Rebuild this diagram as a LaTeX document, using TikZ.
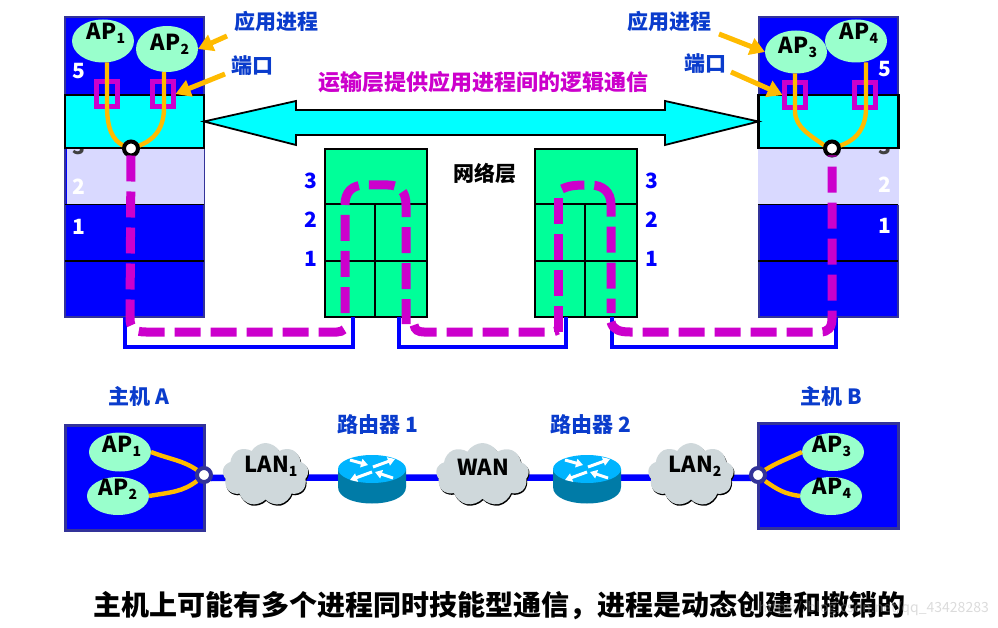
\documentclass[tikz,border=0pt]{standalone}
\usepackage{fontspec}
\setmainfont{Noto Sans CJK SC}
\usetikzlibrary{shapes.geometric,shapes.symbols,shadows,backgrounds,arrows.meta}
\definecolor{hostblue}{RGB}{0,0,255}
\definecolor{hostedge}{RGB}{51,51,153}
\definecolor{lav}{RGB}{217,217,255}
\definecolor{rgreen}{RGB}{0,255,153}
\definecolor{apgreen}{RGB}{153,255,204}
\definecolor{magline}{RGB}{204,0,204}
\definecolor{orangeline}{RGB}{255,187,0}
\definecolor{labelblue}{RGB}{10,60,204}
\definecolor{cloudgrey}{RGB}{207,216,219}
\definecolor{rtop}{RGB}{0,180,255}
\definecolor{rside}{RGB}{0,123,167}
\definecolor{cyanfill}{RGB}{0,255,255}
\tikzset{
  hostbox/.style={draw=hostedge,line width=2.6pt,fill=hostblue,inner sep=0,outer sep=0},
  cyanbox/.style={draw=black,line width=2.4pt,fill=cyanfill,inner sep=0,outer sep=0,minimum width=139pt,minimum height=53pt},
  rbox/.style={draw=black,line width=1.6pt,fill=rgreen,inner sep=0,outer sep=0,minimum width=102pt,minimum height=168pt},
  hair/.style={draw=black,line width=1.4pt},
  apell/.style={ellipse,fill=apgreen,inner sep=0,outer sep=0},
  aptext/.style={font=\fontsize{22}{22}\selectfont\bfseries,text=black,inner sep=0},
  wlabel/.style={font=\fontsize{21}{21}\selectfont\bfseries,text=white,inner sep=0},
  blabel/.style={font=\fontsize{21}{21}\selectfont\bfseries,text=hostblue,inner sep=0},
  cnlabel/.style={font=\fontsize{21}{21}\selectfont\bfseries,text=labelblue,inner sep=0},
  portsq/.style={draw=magline,line width=4.4pt,inner sep=0,outer sep=0,minimum width=21pt,minimum height=25pt},
  procline/.style={draw=orangeline,line width=4.4pt},
  pointer/.style={draw=orangeline,line width=5pt,-{Triangle[length=15pt,width=17pt]}},
  hole/.style={circle,fill=white,draw=black,line width=4pt,minimum size=14pt,inner sep=0,outer sep=0},
  holeb/.style={circle,fill=white,draw=hostedge,line width=4pt,minimum size=14pt,inner sep=0,outer sep=0},
  pipe/.style={draw=magline,line width=9pt,dash pattern=on 26pt off 10pt},
  wire/.style={draw=hostblue,line width=3.6pt},
  bus/.style={draw=hostblue,line width=6.5pt},
  cloudnode/.style={cloud,cloud puffs=9,cloud puff arc=120,aspect=1.35,fill=cloudgrey,inner sep=0,outer sep=0,minimum width=86pt,minimum height=63pt,
     copy shadow={fill=black,draw=none,shadow xshift=0.8pt,shadow yshift=-1.4pt}},
  cloudtext/.style={font=\fontsize{22}{22}\selectfont\bfseries,text=black,inner sep=0},
  rarrow/.style={draw=white,line width=3pt,-{Triangle[length=7pt,width=8.5pt]}},
}
\newcommand{\aplabel}[1]{AP\raisebox{-4pt}{\fontsize{14}{14}\selectfont #1}}
\newcommand{\routerart}[2]{%
  \begin{scope}[shift={(#1,#2)}]
    \fill[rside] (-34,0) -- (-34,18) .. controls (-34,40) and (34,40) .. (34,18) -- (34,0) -- cycle;
    \fill[rtop] (0,0) ellipse[x radius=34pt,y radius=14pt];
    \draw[rarrow] (-22,-9) -- (-4,-4);
    \draw[rarrow] (1,-2) -- (23,-10);
    \draw[rarrow] (0,3) -- (-22,11);
    \draw[rarrow] (21,9) -- (3,3);
  \end{scope}}
\begin{document}
\begin{tikzpicture}[x=1pt,y=-1pt]
\useasboundingbox (0,0) rectangle (998,628);
% hosts, upper part
\node[hostbox,minimum width=139pt,minimum height=300pt] (hostA) at (134.5,167) {};
\node[hostbox,minimum width=139pt,minimum height=300pt] (hostB) at (828.5,167) {};
\fill[lav] (66.5,148) rectangle (204,205);
\fill[lav] (758,148) rectangle (899,205);
\draw[hair] (65,204.5) -- (204,204.5);
\draw[hair] (758,204.5) -- (898,204.5);
\draw[hair] (65,261) -- (204,261);
\draw[hair] (758,261) -- (898,261);
\node[wlabel] (a5) at (79,71) {5};
\node[wlabel,text=black!75] (a3) at (79,147) {3};
\node[wlabel] (a2) at (79,187) {2};
\node[wlabel] (a1) at (79,227) {1};
\node[wlabel] (b5) at (885,69) {5};
\node[wlabel,text=black!75] (b3) at (885,147) {3};
\node[wlabel] (b2) at (885,185) {2};
\node[wlabel] (b1) at (885,226) {1};
\node[cyanbox] (cyanL) at (134.5,121.5) {};
\node[cyanbox,minimum width=140pt] (cyanR) at (828.5,121.5) {};
% transport arrow
\draw[draw=black,line width=1.8pt,fill=cyanfill,line join=miter] (cyanL.east) -- (296,101) -- (296,110) -- (665,110) -- (665,101) -- (cyanR.west) -- (665,145) -- (665,135) -- (296,135) -- (296,145) -- cycle;
% ports
\node[portsq] (p1) at (107,94) {};
\node[portsq] (p2) at (163,94) {};
\node[portsq] (p3) at (795,95) {};
\node[portsq] (p4) at (865,95) {};
% AP upper
\node[apell,minimum width=62pt,minimum height=43pt] (e1) at (103,41) {};
\node[apell,minimum width=62pt,minimum height=46pt] (e2) at (167,49) {};
\node[apell,minimum width=62pt,minimum height=43pt] (e3) at (796,52) {};
\node[apell,minimum width=62pt,minimum height=43pt] (e4) at (856,41) {};
\node[aptext] (t1) at (106,33) {\aplabel{1}};
\node[aptext] (t2) at (170,44) {\aplabel{2}};
\node[aptext] (t3) at (798,47) {\aplabel{3}};
\node[aptext] (t4) at (859,33) {\aplabel{4}};
\draw[procline] ([xshift=4pt]e1.south) -- (107,105) .. controls (107,128) and (112,140) .. (124,146);
\draw[procline] ([xshift=-3pt]e2.south) -- (164,108) .. controls (164,132) and (150,142) .. (138,146);
\draw[procline] ([xshift=-1pt]e3.south) -- (795,112) .. controls (796,128) and (810,135) .. (825,146);
\draw[procline] ([xshift=10pt]e4.south) -- (866,108) .. controls (866,132) and (852,142) .. (839,146);
\node[hole] (cA) at (131,148.5) {};
\node[hole] (cB) at (832,148.5) {};
% pointers
\node[cnlabel] (lapL) at (276,21) {应用进程};
\node[cnlabel] (lportL) at (252.5,66) {端口};
\node[cnlabel] (lapR) at (669,21) {应用进程};
\node[cnlabel] (lportR) at (705.5,64) {端口};
\draw[pointer] (227,36) -- (e2.east);
\draw[pointer] (225,74) -- ([xshift=2pt]p2.east);
\draw[pointer] (719,34) -- (e3.west);
\draw[pointer] (731,72) -- ([xshift=-2pt]p3.west);
\node[font=\fontsize{22}{22}\selectfont\bfseries,text=magline,inner sep=0] (title) at (483,82) {运输层提供应用进程间的逻辑通信};
% router stacks
\node[rbox] (r1) at (376,233) {};
\node[rbox] (r2) at (586,233) {};
\draw[hair] (325,204) -- (427,204);
\draw[hair] (325,261) -- (427,261);
\draw[hair] (375,204) -- (375,317);
\draw[hair] (535,204) -- (637,204);
\draw[hair] (535,261) -- (637,261);
\draw[hair] (585,204) -- (585,317);
\node[blabel] (n13) at (311,181) {3};
\node[blabel] (n12) at (311,220) {2};
\node[blabel] (n11) at (311,259) {1};
\node[blabel] (n23) at (652,181) {3};
\node[blabel] (n22) at (652,220) {2};
\node[blabel] (n21) at (652,259) {1};
\node[font=\fontsize{21}{21}\selectfont\bfseries,text=black,inner sep=0] (netl) at (485,174) {网络层};
% wires
\draw[wire] ([xshift=-9.5pt]hostA.south) -- ++(0,30) -| ([xshift=-23pt]r1.south);
\draw[wire] ([xshift=23pt]r1.south) -- ++(0,30) -| ([xshift=-20pt]r2.south);
\draw[wire] ([xshift=26pt]r2.south) -- ++(0,30) -| ([xshift=7.5pt]hostB.south);
% dashed logical paths
\draw[pipe] (cA.south) -- (130,318) .. controls (130,328) and (134,332) .. (146,332) -- (337,332) .. controls (343,332) and (347,328) .. (348,322);
\draw[pipe] (345,313) -- (345,205) .. controls (345,192) and (352,185) .. (365,185) -- (388,185) .. controls (400,185) and (406,192) .. (406,205) -- (406,324);
\draw[pipe] (414,325) .. controls (415,330) and (418,332) .. (424,332) -- (548,332) .. controls (552,332) and (554,332) .. (558,330);
\draw[pipe] (558,332) -- (558,197);
\draw[pipe,dash pattern=on 23pt off 10pt on 40pt off 10pt on 26pt off 10pt on 26pt off 10pt on 26pt off 10pt] (562,189) .. controls (570,185) and (578,185) .. (590,185) .. controls (603,185) and (611,192) .. (611,205) -- (611,313);
\draw[pipe] (611,322) .. controls (613,330) and (620,332) .. (630,332) -- (820,332) .. controls (828,332) and (832,328) .. (832,318) -- (cB.south);
% lower row
\node[cnlabel] (hA) at (139,396) {主机 A};
\node[cnlabel] (hB) at (831,396) {主机 B};
\node[cnlabel] (rt1) at (378,425) {路由器 1};
\node[cnlabel] (rt2) at (591,425) {路由器 2};
\node[hostbox,line width=3pt,minimum width=139pt,minimum height=105pt] (lowA) at (134.5,477.5) {};
\node[hostbox,line width=3pt,minimum width=140pt,minimum height=105pt] (lowB) at (828,475.5) {};
\node[apell,minimum width=62pt,minimum height=39pt] (f1) at (120,452) {};
\node[apell,minimum width=62pt,minimum height=38pt] (f2) at (118,496) {};
\node[apell,minimum width=62pt,minimum height=38pt] (f3) at (833,452) {};
\node[apell,minimum width=62pt,minimum height=38pt] (f4) at (831,496) {};
\node[aptext] (u1) at (122,446) {\aplabel{1}};
\node[aptext] (u2) at (118,489) {\aplabel{2}};
\node[aptext] (u3) at (832,446) {\aplabel{3}};
\node[aptext] (u4) at (832,488) {\aplabel{4}};
\routerart{372}{469}
\routerart{587}{469}
\node[inner sep=0,outer sep=0,minimum width=68pt,minimum height=49pt] (rn1) at (372,478) {};
\node[inner sep=0,outer sep=0,minimum width=68pt,minimum height=49pt] (rn2) at (587,478) {};
\node[cloudnode] (lan1) at (265.5,474.5) {};
\node[cloudnode,minimum width=93pt] (wan) at (482.5,474.5) {};
\node[cloudnode] (lan2) at (691,474.5) {};
\node[cloudtext] (l1t) at (271,466) {LAN\raisebox{-4pt}{\fontsize{14}{14}\selectfont 1}};
\node[cloudtext] (wt) at (483,467) {WAN};
\node[cloudtext] (l2t) at (695,466) {LAN\raisebox{-4pt}{\fontsize{14}{14}\selectfont 2}};
\draw[procline] (f1.east) .. controls (172,460) and (182,460) .. (197,470);
\draw[procline] (f2.east) .. controls (172,492) and (182,492) .. (197,481);
\draw[procline] (f3.west) .. controls (785,460) and (778,462) .. (765,470);
\draw[procline] (f4.west) .. controls (785,494) and (778,490) .. (765,481);
\node[holeb] (sA) at (204,475) {};
\node[holeb] (sB) at (758,475) {};
\begin{scope}[on background layer]
\draw[bus] ([yshift=-3pt]sA.east) -- ([yshift=-3pt]lan1.center) -- ([yshift=-3pt]rn1.center |- lan1.center) -- ([yshift=-3pt]wan.center) -- ([yshift=-3pt]rn2.center |- wan.center) -- ([yshift=-3pt]lan2.center) -- ([yshift=-3pt]sB.west);
\end{scope}
\node[font=\fontsize{28}{28}\selectfont\bfseries,text=black,inner sep=0] (caption) at (499,605) {主机上可能有多个进程同时技能型通信，进程是动态创建和撤销的};
\node[font=\fontsize{14}{14}\selectfont,text=black!35,opacity=0.4,inner sep=0,anchor=east] (mark) at (989,609) {https://blog.csdn.net/qq\_43428283};
\end{tikzpicture}
\end{document}
